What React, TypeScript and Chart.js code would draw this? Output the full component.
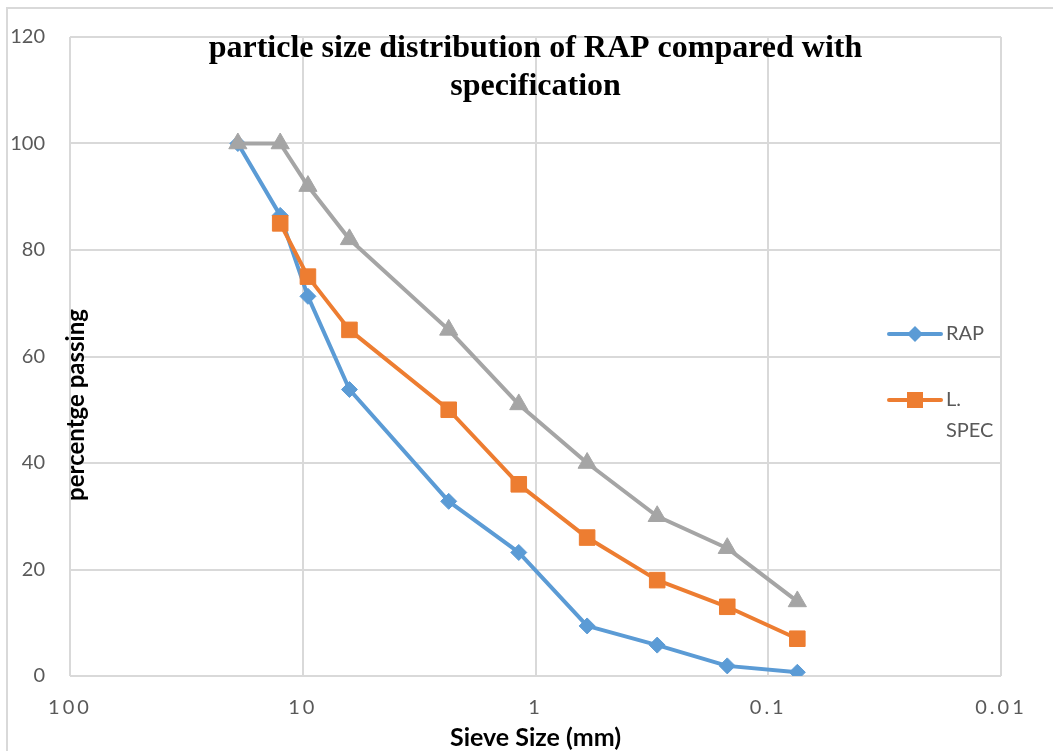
import React, { useEffect, useRef } from "react";
import { Chart, registerables } from "chart.js";

Chart.register(...registerables);

// ---- data ----
const sieveSizes = [19, 12.5, 9.5, 6.3, 2.36, 1.18, 0.6, 0.3, 0.15, 0.075];
const rapPassing = [100, 86.5, 71.3, 53.8, 32.8, 23.2, 9.4, 5.8, 1.9, 0.7];
const lowerSpec = [null, 85, 75, 65, 50, 36, 26, 18, 13, 7];
const upperSpec = [100, 100, 92, 82, 65, 51, 40, 30, 24, 14];
const xTickValues = [100, 10, 1, 0.1, 0.01];
const yMin = 0;
const yMax = 120;
const yStep = 20;
const seriesNames = ["RAP", "L. SPEC", "U. SPEC"];
const legendLabels = [["RAP"], ["L.", "SPEC"]];
const titleLines = ["particle size distribution of RAP compared with", "specification"];
const xTitle = "Sieve Size (mm)";
const yTitle = "percentge passing";

// ---- styles ----
const BLUE = "#5B9BD5";
const ORANGE = "#ED7D31";
const GRAY = "#A5A5A5";
const GRID = "#D9D9D9";
const TICK = "#595959";
const SANS = "Lato";

function toPoints(ys: (number | null)[]) {
  const out: { x: number; y: number }[] = [];
  sieveSizes.forEach((x, i) => {
    const y = ys[i];
    if (y !== null && y !== undefined) out.push({ x, y });
  });
  return out;
}

const overlayPlugin = {
  id: "overlay",
  afterDraw(chart: any) {
    const ctx: CanvasRenderingContext2D = chart.ctx;
    const area = chart.chartArea;
    ctx.save();
    // outer frame
    ctx.strokeStyle = GRID;
    ctx.lineWidth = 2;
    ctx.beginPath();
    ctx.moveTo(7, 751);
    ctx.lineTo(7, 8);
    ctx.lineTo(1053, 8);
    ctx.stroke();

    // title
    ctx.fillStyle = "#000";
    ctx.textAlign = "center";
    ctx.textBaseline = "middle";
    ctx.font = "bold 32px 'Liberation Serif'";
    const cx = (area.left + area.right) / 2;
    titleLines.forEach((t, i) => ctx.fillText(t, cx, 49 + i * 38));

    // axis titles
    ctx.font = `bold 25px ${SANS}`;
    ctx.fillText(xTitle, cx, 738);
    ctx.font = `bold 24px ${SANS}`;
    ctx.save();
    ctx.translate(76, 405);
    ctx.rotate(-Math.PI / 2);
    ctx.fillText(yTitle, 0, 0);
    ctx.restore();

    // legend
    const colors = [BLUE, ORANGE];
    const ys = [334, 400];
    ctx.font = `20px ${SANS}`;
    ctx.textAlign = "left";
    legendLabels.forEach((lines, i) => {
      const y = ys[i];
      ctx.strokeStyle = colors[i];
      ctx.fillStyle = colors[i];
      ctx.lineWidth = 4;
      ctx.lineCap = "round";
      ctx.beginPath();
      ctx.moveTo(889, y);
      ctx.lineTo(941, y);
      ctx.stroke();
      ctx.beginPath();
      if (i === 0) {
        const r = 8;
        ctx.moveTo(915 - r, y);
        ctx.lineTo(915, y - r);
        ctx.lineTo(915 + r, y);
        ctx.lineTo(915, y + r);
        ctx.closePath();
      } else {
        ctx.rect(915 - 8, y - 8, 16, 16);
      }
      ctx.fill();
      ctx.fillStyle = TICK;
      lines.forEach((l, j) => ctx.fillText(l, 946, y + j * 31));
    });
    ctx.restore();
  },
};

export default function App() {
  const ref = useRef<HTMLCanvasElement | null>(null);
  useEffect(() => {
    if (!ref.current) return;
    const chart = new Chart(ref.current, {
      type: "scatter",
      data: {
        datasets: [
          {
            label: seriesNames[0],
            data: toPoints(rapPassing),
            showLine: true,
            borderColor: BLUE,
            backgroundColor: BLUE,
            borderWidth: 4,
            pointStyle: "rectRot",
            pointRadius: 8,
            pointBorderWidth: 1,
            pointBorderColor: BLUE,
            pointBackgroundColor: BLUE,
            order: 3,
          },
          {
            label: seriesNames[1],
            data: toPoints(lowerSpec),
            showLine: true,
            borderColor: ORANGE,
            backgroundColor: ORANGE,
            borderWidth: 4,
            pointStyle: "rect",
            pointRadius: 11,
            pointBorderWidth: 1,
            pointBorderColor: ORANGE,
            pointBackgroundColor: ORANGE,
            order: 2,
          },
          {
            label: seriesNames[2],
            data: toPoints(upperSpec),
            showLine: true,
            borderColor: GRAY,
            backgroundColor: GRAY,
            borderWidth: 4,
            pointStyle: "triangle",
            pointRadius: 10.5,
            pointBorderWidth: 1,
            pointBorderColor: GRAY,
            pointBackgroundColor: GRAY,
            order: 1,
          },
        ] as any,
      },
      options: {
        animation: false,
        responsive: false,
        maintainAspectRatio: false,
        layout: { padding: { left: 0, top: 37, right: 52, bottom: 0 } },
        plugins: { legend: { display: false }, tooltip: { enabled: false }, title: { display: false } },
        elements: { line: { tension: 0, borderJoinStyle: "round", borderCapStyle: "round" } },
        scales: {
          x: {
            type: "logarithmic",
            reverse: true,
            min: 0.01,
            max: 100,
            afterBuildTicks: (scale: any) => {
              scale.ticks = xTickValues.map((v) => ({ value: v }));
            },
            afterFit: (scale: any) => {
              scale.height = 75;
            },
            afterUpdate: (scale: any) => {
              if (scale.__spaced) return;
              scale.__spaced = true;
              const orig = scale.drawLabels.bind(scale);
              scale.drawLabels = (area: any) => {
                const c = scale.ctx;
                c.save();
                c.letterSpacing = "3px";
                orig(area);
                c.restore();
              };
            },
            ticks: {
              color: TICK,
              font: { family: SANS, size: 20 },
              padding: 20,
              maxRotation: 0,
              autoSkip: false,
              callback: (v: any) => String(v),
            },
            grid: { color: GRID, lineWidth: 2, drawTicks: false },
            border: { display: false },
          },
          y: {
            min: yMin,
            max: yMax,
            afterFit: (scale: any) => {
              scale.width = 70;
            },
            ticks: {
              stepSize: yStep,
              color: TICK,
              font: { family: SANS, size: 20 },
              padding: 25,
            },
            grid: { color: GRID, lineWidth: 2, drawTicks: false },
            border: { display: false },
          },
        },
      } as any,
      plugins: [overlayPlugin],
    });
    return () => chart.destroy();
  }, []);
  return (
    <div style={{ position: "absolute", left: 0, top: 0, width: 1053, height: 751, background: "#fff" }}>
      <canvas ref={ref} width={1053} height={751} style={{ display: "block" }} />
    </div>
  );
}
